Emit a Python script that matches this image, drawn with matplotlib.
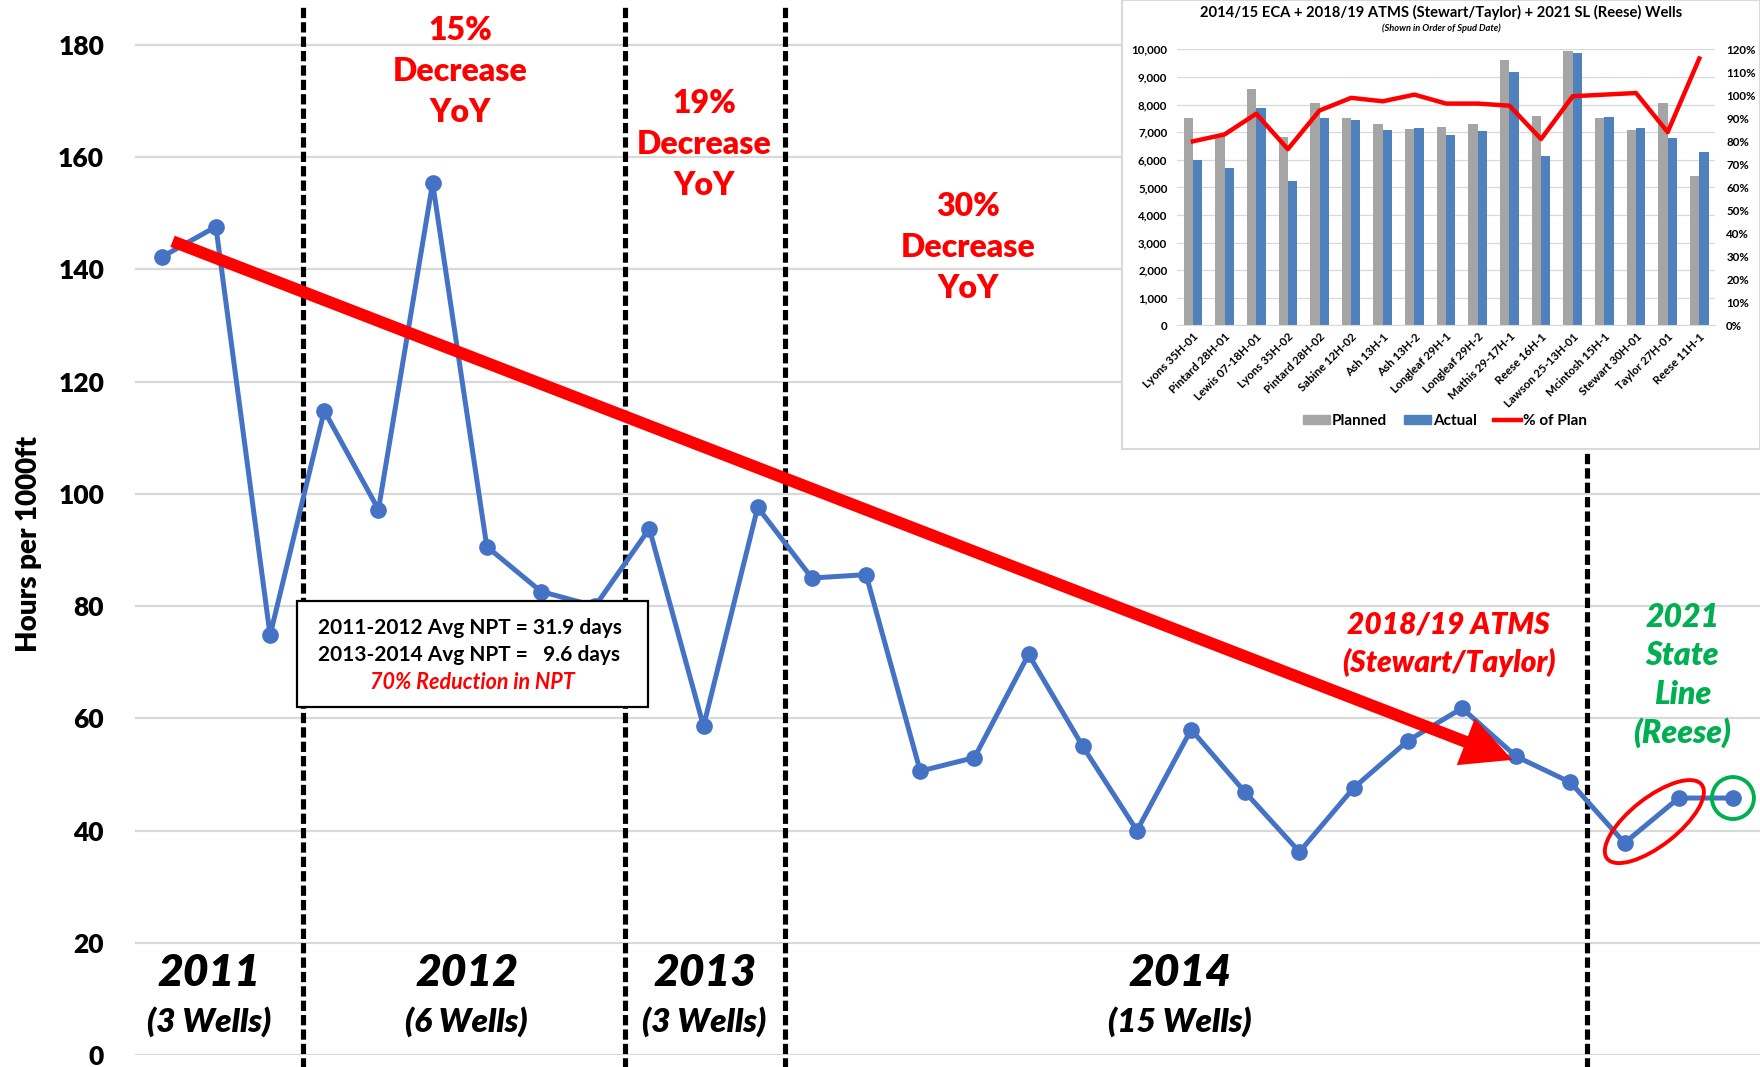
import numpy as np
import matplotlib
matplotlib.use('Agg')
import matplotlib.pyplot as plt
from matplotlib.patches import Rectangle, Ellipse, Patch
from matplotlib.lines import Line2D
from matplotlib.transforms import ScaledTranslation

plt.rcParams['font.family'] = ['Lato', 'DejaVu Sans']
plt.rcParams['font.weight'] = 'bold'

# main chart: hours per 1000 ft for each well, in spud order
wells = np.arange(1, 31)
hours = [142.2, 147.6, 74.8, 114.8, 97.2, 155.4, 90.6, 82.6, 80.0, 93.8,
         58.6, 97.6, 85.0, 85.6, 50.6, 53.0, 71.4, 55.0, 40.0, 58.0,
         46.8, 36.2, 47.6, 56.0, 61.8, 53.2, 48.6, 37.8, 45.8, 45.8]
yticks = np.arange(0, 181, 20)
year_breaks = [3.6, 9.55, 12.5, 27.3]
years = ['2011', '2012', '2013', '2014']
year_wells = ['(3 Wells)', '(6 Wells)', '(3 Wells)', '(15 Wells)']
year_x = [1.87, 6.63, 11.02, 19.8]
yoy_labels = ['15%', '19%', '30%']
yoy_x = [6.51, 11.02, 15.89]
yoy_top = [182.6, 169.6, 151.2]
trend_start = (1.2, 145.0)
trend_end = (25.93, 52.6)

# inset chart: planned vs actual
inset_wells = ['Lyons 35H-01', 'Pintard 28H-01', 'Lewis 07-18H-01', 'Lyons 35H-02',
               'Pintard 28H-02', 'Sabine 12H-02', 'Ash 13H-1', 'Ash 13H-2',
               'Longleaf 29H-1', 'Longleaf 29H-2', 'Mathis 29-17H-1', 'Reese 16H-1',
               'Lawson 25-13H-01', 'Mcintosh 15H-1', 'Stewart 30H-01', 'Taylor 27H-01',
               'Reese 11H-1']
planned = [7530, 6900, 8580, 6840, 8040, 7530, 7280, 7110, 7170, 7310,
           9600, 7590, 9940, 7530, 7070, 8040, 5420]
actual = [6000, 5690, 7870, 5240, 7530, 7430, 7070, 7150, 6900, 7050,
          9160, 6140, 9860, 7550, 7150, 6780, 6290]
pct_plan = [80, 83, 92, 76.6, 93.4, 98.9, 97.4, 100.3, 96.4, 96.4,
            95.5, 81, 99.6, 100.3, 101, 84, 116]

BLUE = '#4472C4'
RED = '#FF0000'
GREEN = '#00B050'
W = 'heavy'


def stacked(ax, x, y0, lines, pitch, **kw):
    # one text per line so the line pitch matches the original
    for i, s in enumerate(lines):
        ax.text(x, y0 - i * pitch, s, ha='center', va='center', **kw)


fig = plt.figure(figsize=(17.6, 10.67), dpi=100)
ax = fig.add_axes([0.0765, 0.0112, 0.9235, 0.9888])
ax.set_zorder(1)

ax.plot(wells, hours, color=BLUE, lw=3.6, marker='o', ms=11, zorder=3)
ax.set_xlim(0.5, 30.5)
ax.set_ylim(0, 188)
ax.set_yticks(yticks)
ax.set_xticks([])
ax.grid(axis='y', color='#D9D9D9', lw=1.6, zorder=0)
for s in ax.spines.values():
    s.set_visible(False)
ax.tick_params(axis='y', length=0, pad=22, labelsize=19)
for t in ax.get_yticklabels():
    t.set_fontweight(W)
ax.set_ylabel('Hours per 1000ft', fontsize=20, fontweight=W)
ax.yaxis.set_label_coords(-0.057, 0.484)

for xb in year_breaks:
    ax.axvline(xb, ymin=-0.02, ymax=0.995, color='black', lw=3.7,
               ls=(0, (2.0, 0.8)), clip_on=False, zorder=2)

for x, yr, nw in zip(year_x, years, year_wells):
    ax.text(x, 14.6, yr, ha='center', va='center', fontsize=32,
            fontweight=W, style='italic')
    ax.text(x, 5.9, nw, ha='center', va='center', fontsize=24,
            fontweight=W, style='italic')

for lab, x, y in zip(yoy_labels, yoy_x, yoy_top):
    stacked(ax, x, y, [lab, 'Decrease', 'YoY'], 7.3, fontsize=23,
            color=RED, fontweight=W)

stacked(ax, 24.75, 76.8, ['2018/19 ATMS', '(Stewart/Taylor)'], 6.8,
        fontsize=21.5, color=RED, fontweight=W, style='italic')
stacked(ax, 29.07, 78.0, ['2021', 'State', 'Line', '(Reese)'], 6.87,
        fontsize=23, color=GREEN, fontweight=W, style='italic')

ax.annotate('', xy=trend_end, xytext=trend_start,
            arrowprops=dict(arrowstyle='simple,head_length=1.0,head_width=1.0,tail_width=0.24',
                            mutation_scale=36, color=RED, lw=0,
                            shrinkA=0, shrinkB=0), zorder=4)

# highlight markers
ell = Ellipse((0, 0), 1.2, 0.48, angle=38, fill=False, ec=RED, lw=2.8,
              transform=fig.dpi_scale_trans + ScaledTranslation(28.55, 41.6, ax.transData),
              clip_on=False, zorder=5)
ax.add_patch(ell)
circ = Ellipse((0, 0), 0.42, 0.42, fill=False, ec=GREEN, lw=2.8,
               transform=fig.dpi_scale_trans + ScaledTranslation(wells[-1], hours[-1], ax.transData),
               clip_on=False, zorder=5)
ax.add_patch(circ)

# NPT box
box = Rectangle((0.1688, 0.3374), 0.1994, 0.0993, transform=fig.transFigure,
                facecolor='white', edgecolor='black', lw=1.6, zorder=6, clip_on=False)
ax.add_patch(box)
ax.text(0.1805, 0.4119, '2011-2012 Avg NPT = 31.9 days', transform=fig.transFigure,
        ha='left', va='center', fontsize=15, zorder=7)
ax.text(0.1805, 0.3857, '2013-2014 Avg NPT =   9.6 days', transform=fig.transFigure,
        ha='left', va='center', fontsize=15, zorder=7)
ax.text(0.2685, 0.3604, '70% Reduction in NPT', transform=fig.transFigure,
        ha='center', va='center', fontsize=15.5, color=RED, style='italic', zorder=7)

# inset frame
frame = fig.add_axes([0.6375, 0.5792, 0.3625, 0.4208])
frame.set_zorder(2)
frame.set_xticks([])
frame.set_yticks([])
for s in frame.spines.values():
    s.set_color('#D9D9D9')
    s.set_linewidth(1.5)
frame.text(0.5002, 0.973, '2014/15 ECA + 2018/19 ATMS (Stewart/Taylor) + 2021 SL (Reese) Wells',
           transform=frame.transAxes, ha='center', va='center', fontsize=10.6)
frame.text(0.5002, 0.938, '(Shown in Order of Spud Date)', transform=frame.transAxes,
           ha='center', va='center', fontsize=6.7, style='italic')

ax_in = fig.add_axes([0.6688, 0.695, 0.3057, 0.2588])
ax_in.set_zorder(3)
ax_in.patch.set_alpha(0)
xi = np.arange(len(inset_wells))
bw = 0.295
ax_in.bar(xi - bw / 2, planned, bw, color='#A5A5A5', zorder=2, label='Planned')
ax_in.bar(xi + bw / 2, actual, bw, color='#4F81BD', zorder=2, label='Actual')
ax_in.set_xlim(-0.5, len(inset_wells) - 0.5)
ax_in.set_ylim(0, 10000)
ax_in.set_yticks(np.arange(0, 10001, 1000))
ax_in.set_yticklabels(['{:,}'.format(v) for v in range(0, 10001, 1000)])
ax_in.grid(axis='y', color='#D9D9D9', lw=0.9, zorder=0)
ax_in.set_xticks(xi)
ax_in.set_xticklabels(inset_wells, rotation=45, ha='right', rotation_mode='anchor')
ax_in.tick_params(axis='both', length=0, labelsize=8.3, pad=7)
ax_in.tick_params(axis='x', pad=4)
for k, s in ax_in.spines.items():
    s.set_visible(k == 'bottom')
ax_in.spines['bottom'].set_color('#D9D9D9')

ax_r = ax_in.twinx()
ax_r.set_zorder(4)
ax_r.patch.set_visible(False)
ax_r.plot(xi, pct_plan, color=RED, lw=3.2, zorder=3)
ax_r.set_ylim(0, 120)
ax_r.set_yticks(np.arange(0, 121, 10))
ax_r.set_yticklabels(['{}%'.format(v) for v in range(0, 121, 10)])
ax_r.tick_params(axis='y', length=0, labelsize=8.3, pad=8)
for s in ax_r.spines.values():
    s.set_visible(False)

handles = [Patch(color='#A5A5A5'), Patch(color='#4F81BD'), Line2D([], [], color=RED, lw=3.2)]
fig.legend(handles, ['Planned', 'Actual', '% of Plan'], loc='center',
           bbox_to_anchor=(0.821, 0.6057), ncol=3, frameon=False, fontsize=11,
           handlelength=1.75, handleheight=0.55, handletextpad=0.15, columnspacing=1.1)

fig.savefig('out.png', dpi=100)
